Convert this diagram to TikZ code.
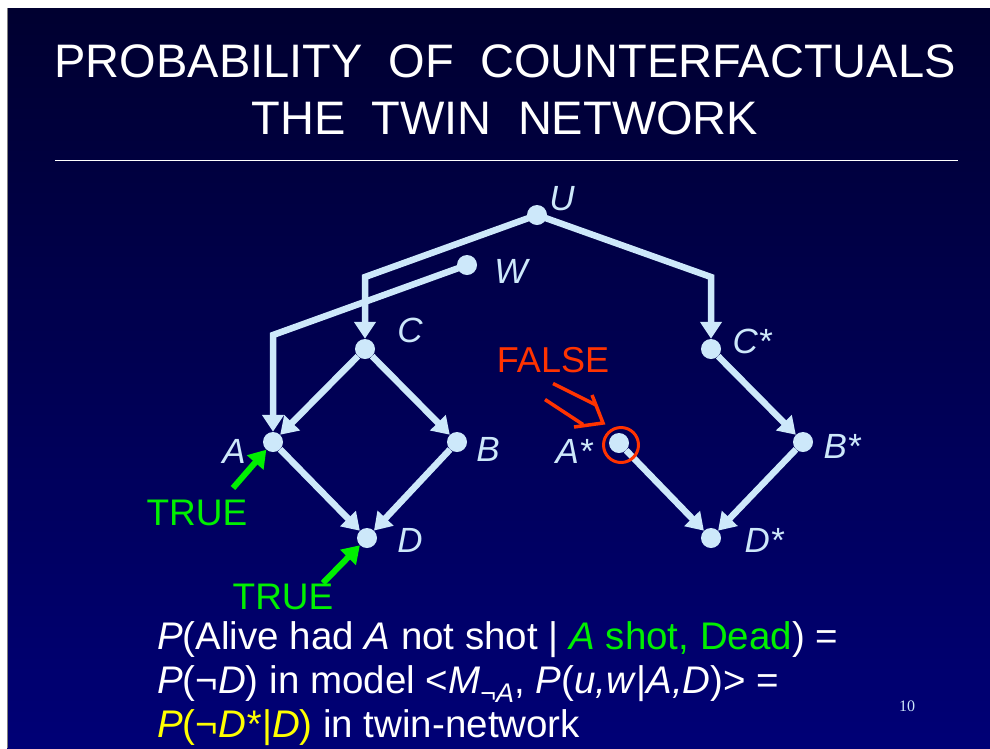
\documentclass[tikz,border=0pt]{standalone}
\usepackage{fontspec}
\setmainfont{Liberation Sans}
\newfontfamily\numfont{Liberation Serif}
\usetikzlibrary{arrows.meta}
\definecolor{nodec}{RGB}{205,232,250}
\definecolor{trueg}{RGB}{0,240,0}
\definecolor{falser}{RGB}{255,51,0}
\definecolor{yel}{RGB}{255,255,0}
\definecolor{bgtop}{RGB}{0,0,48}
\definecolor{bgbot}{RGB}{0,0,118}
\begin{document}
\begin{tikzpicture}[x=1pt,y=-1pt,
  dot/.style={circle,fill=nodec,inner sep=0pt,minimum size=20pt},
  lab/.style={text=nodec,font=\fontsize{35}{35}\selectfont\itshape,inner sep=0pt},
  edge/.style={draw=nodec,line width=6.5pt,-{Triangle[length=17pt,width=21pt]}},
  greenarrow/.style={draw=trueg,line width=6pt,-{Triangle[length=17pt,width=21pt]}},
  falseline/.style={draw=falser,line width=3.5pt},
  title/.style={text=white,font=\fontsize{47}{47}\selectfont,inner sep=0pt,anchor=base},
  body/.style={text=white,font=\fontsize{38.5}{38.5}\selectfont,inner sep=0pt,anchor=base west},
  flag/.style={font=\fontsize{37}{37}\selectfont,inner sep=0pt}
]
\useasboundingbox (0,0) rectangle (990,748);
\fill[white] (0,0) rectangle (990,748);
\shade[top color=bgtop,bottom color=bgbot] (7,8) rectangle (990,748);
\draw[gray,line width=0.8pt] (7,8) -- (7,748);

% title
\node[title] (t1) at (505,77) {PROBABILITY\ \ OF\ \ COUNTERFACTUALS};
\node[title] (t2) at (505,134) {THE\ \ TWIN\ \ NETWORK};
\coordinate (r1) at (55,160);
\coordinate (r2) at (958,160);
\draw[white,line width=1pt] (r1) -- (r2);

% nodes
\node[dot] (U) at (537,215) {};
\node[dot] (W) at (467,265) {};
\node[dot] (C) at (365,349) {};
\node[dot] (A) at (273,442) {};
\node[dot] (B) at (457,442) {};
\node[dot] (D) at (367,538) {};
\node[dot] (Cs) at (711,349) {};
\node[dot] (As) at (619,443) {};
\node[dot] (Bs) at (803,442) {};
\node[dot] (Ds) at (711,538) {};

% labels
\node[lab] (lU) at (562,199) {U};
\node[lab] (lW) at (511,271) {W};
\node[lab] (lC) at (410,330) {C};
\node[lab] (lA) at (234,451) {A};
\node[lab] (lB) at (488,449) {B};
\node[lab] (lD) at (410,540) {D};
\node[lab] (lCs) at (752,341) {C*};
\node[lab] (lAs) at (574,451) {A*};
\node[lab] (lBs) at (842,446) {B*};
\node[lab] (lDs) at (764,540) {D*};

% corners
\coordinate (kUC) at (365,277);
\coordinate (kUCs) at (711,277);
\coordinate (kWA) at (273,335);

% edges
\draw[edge] (U.center) -- (kUC) -- (C);
\draw[edge] (U.center) -- (kUCs) -- (Cs);
\draw[edge] (W.center) -- (kWA) -- (A);
\draw[edge] (C) -- (A);
\draw[edge] (C) -- (B);
\draw[edge] (A) -- (D);
\draw[edge] (B) -- (D);
\draw[edge] (Cs) -- (Bs);
\draw[edge] (Bs) -- (Ds);
\draw[edge] (As) -- (Ds);

% FALSE
\node[draw=falser,circle,line width=3pt,minimum size=35pt,inner sep=0pt] (ring) at (621,445) {};
\node[flag,text=falser,font=\fontsize{36}{36}\selectfont] (false) at (553,360) {FALSE};
\coordinate (fu1) at (553,383.5);
\coordinate (fu2) at (596,405);
\coordinate (fl1) at (545,399.5);
\coordinate (fl2) at (583,424.5);
\coordinate (fa1) at (592,395);
\coordinate (ft) at (603,423);
\coordinate (fa2) at (574,427);
\draw[falseline] (fu1) -- (fu2);
\draw[falseline] (fl1) -- (fl2);
\draw[falseline,line join=miter] (fa1) -- (ft) -- (fa2);

% TRUE
\node[flag,text=trueg] (true1) at (197,513) {TRUE};
\node[flag,text=trueg] (true2) at (283,597) {TRUE};
\coordinate (g1) at (233,488);
\coordinate (g2) at (323,583);
\draw[greenarrow] (g1) -- (A);
\draw[greenarrow] (g2) -- (D);

% bottom text
\node[body] (l1) at (157,649) {\textit{P}(Alive had \textit{A} not shot | \textcolor{trueg}{\textit{A} shot, Dead}) =};
\node[body] (l2) at (157,693) {\textit{P}(¬\textit{D}) in model <\textit{M}\textsubscript{\textit{¬A}}, \textit{P}(\textit{u,w}|\textit{A,D})> =};
\node[body] (l3) at (157,737) {\textcolor{yel}{\textit{P}(¬\textit{D*}|\textit{D})} in twin-network};

\node[text=nodec,font=\numfont\fontsize{16}{16}\selectfont,inner sep=0pt] (pg) at (907,706) {10};
\end{tikzpicture}
\end{document}
